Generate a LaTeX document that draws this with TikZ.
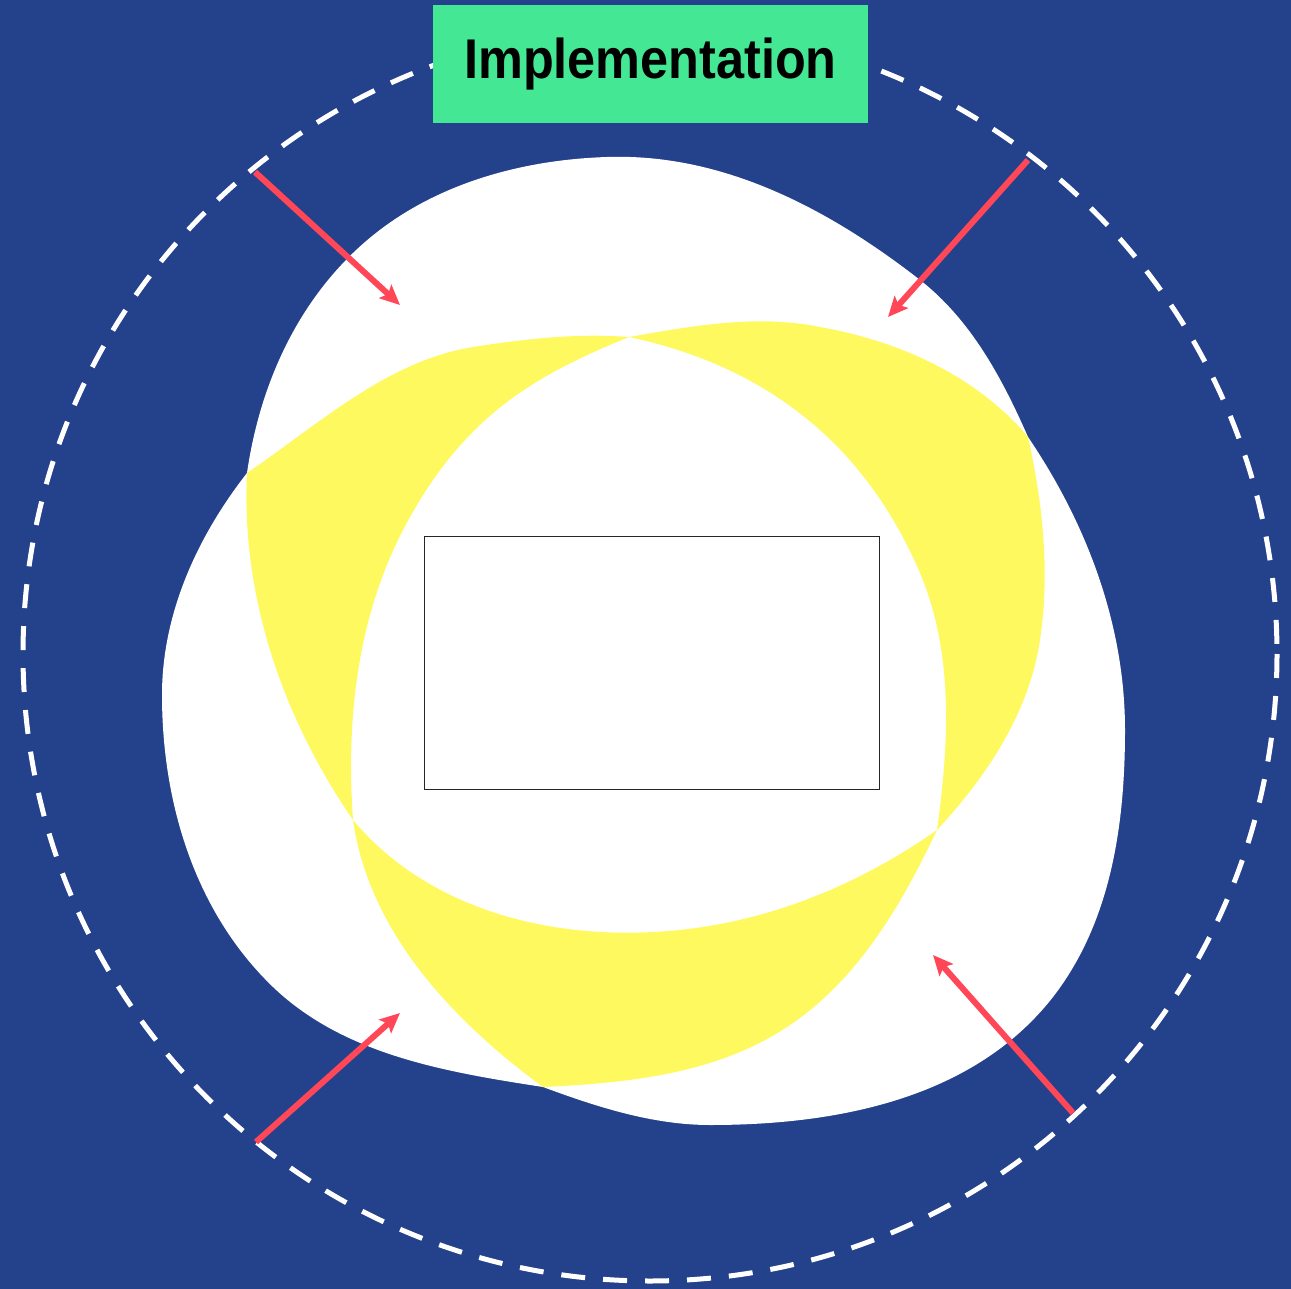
\documentclass[tikz,border=0pt]{standalone}
\usepackage{fontspec}
\setmainfont{Liberation Sans}
\newfontfamily\titlefont{Liberation Sans}[FakeStretch=0.9]
\definecolor{bgblue}{RGB}{36,65,140}
\definecolor{ringyellow}{RGB}{255,249,96}
\definecolor{titlegreen}{RGB}{68,232,148}
\definecolor{arrowred}{RGB}{255,71,87}
\usetikzlibrary{arrows.meta,positioning}

\begin{document}
\begin{tikzpicture}[x=1pt, y=-1pt,
  ttl/.style={fill=titlegreen, minimum width=435pt, minimum height=118pt, inner sep=0pt, font=\titlefont\fontsize{56}{60}\selectfont\bfseries},
  frame/.style={draw=black!85, fill=white, line width=1pt, minimum width=455pt, minimum height=253pt, inner sep=0pt},
  ptr/.style={draw=arrowred, line width=6pt, -{Stealth[length=20pt,width=18pt,inset=4pt]}},
  ring/.style={draw=white, line width=5pt, dash pattern=on 24pt off 18pt}]
\useasboundingbox (0,0) rectangle (1291,1289);
\fill[bgblue] (0,0) rectangle (1291,1289);

\fill[white] (247,473) .. controls (259,390) and (293,311) .. (353,253)
  .. controls (420,188) and (514,160) .. (607,157)
  .. controls (723,153) and (829,209) .. (920,280)
  .. controls (971,320) and (1002,378) .. (1028,437)
  .. controls (1087,524) and (1125,625) .. (1125,730)
  .. controls (1125,825) and (1111,922) .. (1053,997)
  .. controls (974,1098) and (839,1125) .. (710,1125)
  .. controls (653,1125) and (597,1107) .. (543,1087)
  .. controls (446,1072) and (344,1055) .. (273,987)
  .. controls (195,912) and (162,803) .. (162,695)
  .. controls (162,614) and (197,537) .. (247,473) -- cycle;

\fill[ringyellow] (629,337) .. controls (577,333) and (524,339) .. (473,347)
  .. controls (387,361) and (319,424) .. (247,473)
  .. controls (241,597) and (283,718) .. (353,820)
  .. controls (346,720) and (357,619) .. (403,530)
  .. controls (463,415) and (536,375) .. (629,337) -- cycle;
\fill[ringyellow] (629,337) .. controls (692,326) and (757,314) .. (820,327)
  .. controls (899,341) and (977,376) .. (1028,437)
  .. controls (1043,504) and (1050,573) .. (1040,640)
  .. controls (1029,713) and (987,776) .. (937,830)
  .. controls (949,743) and (954,654) .. (920,573)
  .. controls (861,435) and (756,364) .. (629,337) -- cycle;
\fill[ringyellow] (353,820) .. controls (369,932) and (452,1020) .. (543,1087)
  .. controls (628,1083) and (716,1074) .. (787,1027)
  .. controls (857,981) and (901,906) .. (937,830)
  .. controls (853,889) and (756,927) .. (653,932)
  .. controls (541,938) and (425,906) .. (353,820) -- cycle;

\node[frame] (box) at (651.5,662.5) {};

\draw[ring] (650,654) circle (627);

\coordinate (s1) at (255,172);  \coordinate (e1) at (400,305);
\coordinate (s2) at (1028,160); \coordinate (e2) at (888,317);
\coordinate (s3) at (256,1142); \coordinate (e3) at (400,1013);
\coordinate (s4) at (1073,1113); \coordinate (e4) at (933,955);
\draw[ptr] (s1) -- (e1);
\draw[ptr] (s2) -- (e2);
\draw[ptr] (s3) -- (e3);
\draw[ptr] (s4) -- (e4);

\node[ttl] (title) at (650.5,64) {Implementation};
\end{tikzpicture}
\end{document}
